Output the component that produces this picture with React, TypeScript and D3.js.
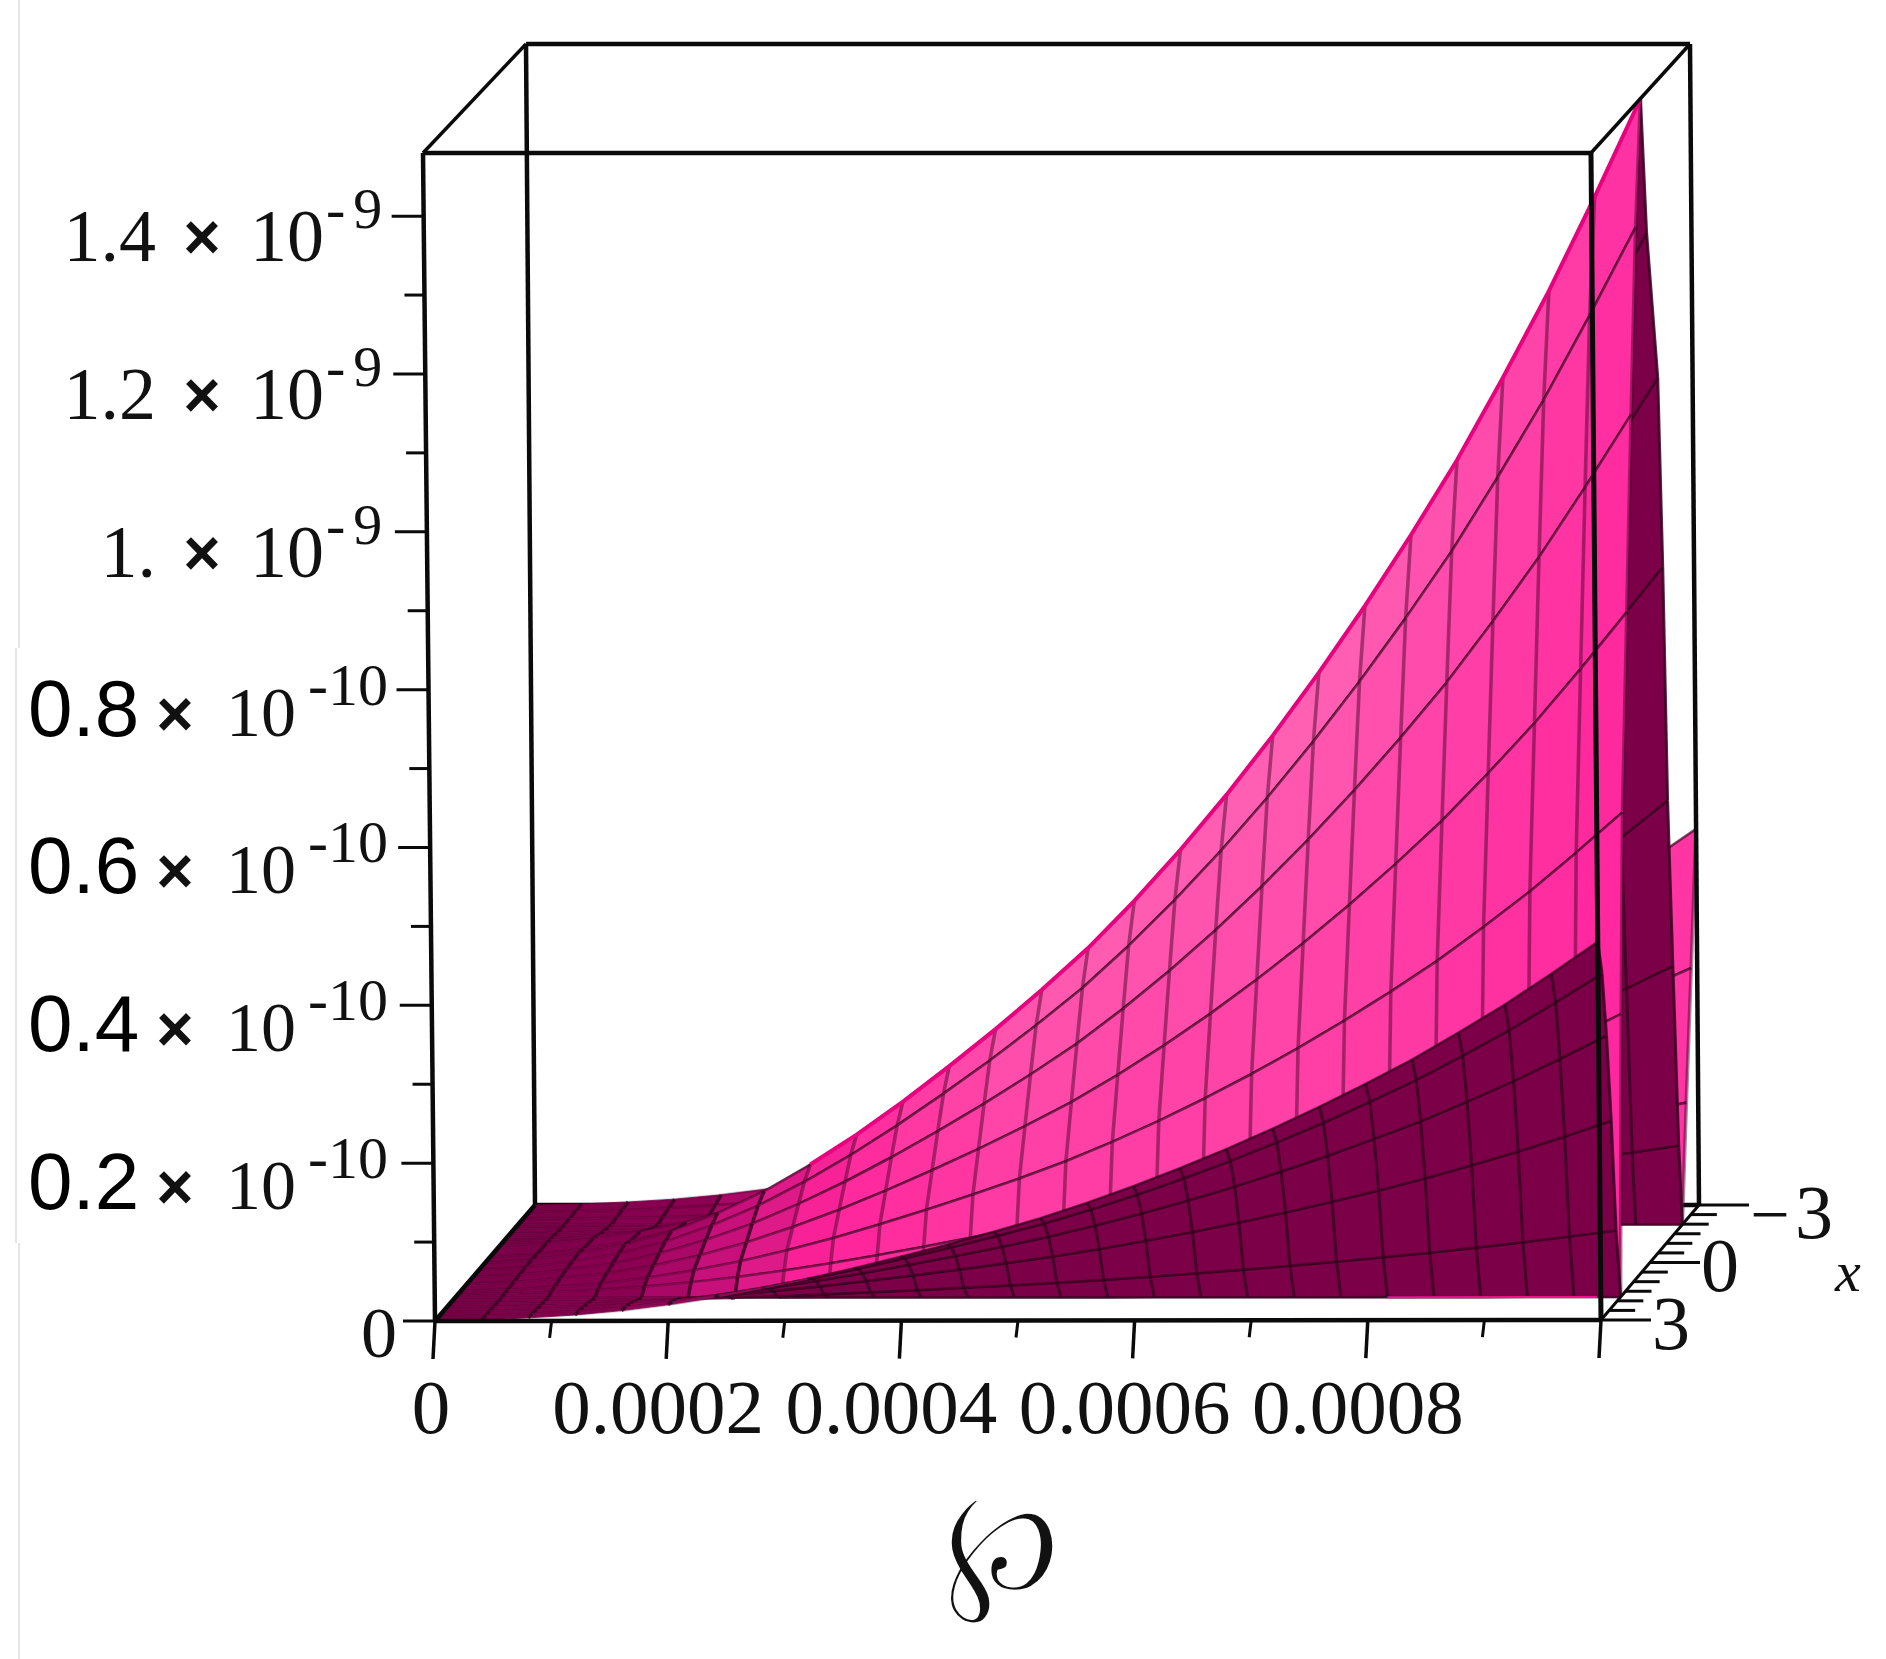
import React, { useRef, useEffect } from 'react';
import * as d3 from 'd3';

// grid of the surface
const pValues = [0, 0.00004, 0.00008, 0.00012, 0.00016, 0.0002, 0.00024, 0.00028, 0.00032, 0.00036, 0.0004, 0.00044, 0.00048, 0.00052, 0.00056, 0.0006, 0.00064, 0.00068, 0.00072, 0.00076, 0.0008, 0.00084, 0.00088, 0.00092, 0.00096, 0.001];
const xValues = [3, 2.76, 2.52, 2.28, 2.04, 1.8, 1.62, 1.44, 1.08, 0.72, 0.36, 0, -0.3, -0.9, -1.11, -1.29, -1.53, -1.8, -1.98, -2.28, -2.64, -3];
// height of the ridge along p, in units of 1e-9
const ridgeHeights = [0, 0.004, 0.012, 0.023, 0.04, 0.063, 0.091, 0.125, 0.163, 0.205, 0.25, 0.297, 0.347, 0.4, 0.46, 0.525, 0.595, 0.67, 0.75, 0.835, 0.925, 1.02, 1.125, 1.235, 1.355, 1.48];
// share of the ridge height along x
const xProfile = [0.324, 0.293, 0.236, 0.159, 0.061, 0, 0.24, 0.41, 0.576, 0.74, 0.895, 1, 0.88, 0.746, 0.58, 0.376, 0.23, 0.071, 0, 0.1, 0.21, 0.324];

const zTicks = [0, 0.1, 0.2, 0.3, 0.4, 0.5, 0.6, 0.7, 0.8, 0.9, 1.0, 1.1, 1.2, 1.3, 1.4];
const zLabelValues = [1.4, 1.2, 1.0, 0.8, 0.6, 0.4, 0.2, 0];
const zLabels = ['1.4', '1.2', '1.', '0.8', '0.6', '0.4', '0.2', '0'];
const zExponents = ['-9', '-9', '-9', '-10', '-10', '-10', '-10', ''];
const pTicks = [0, 0.0001, 0.0002, 0.0003, 0.0004, 0.0005, 0.0006, 0.0007, 0.0008, 0.0009, 0.001];
const pMajor = [0, 0.0002, 0.0004, 0.0006, 0.0008, 0.001];
const pLabelValues = [0, 0.0002, 0.0004, 0.0006, 0.0008];
const pLabels = ['0', '0.0002', '0.0004', '0.0006', '0.0008'];
const xTicks = [3, 2.5, 2, 1.5, 1, 0.5, 0, -0.5, -1, -1.5, -2, -2.5, -3];
const xMajor = [3, 0, -3];

const serif = '"Liberation Serif", serif';
const sans = '"Liberation Sans", sans-serif';

// box corners on the page
const front = { bl: [435, 1321], br: [1601, 1320], tl: [423, 153], tr: [1591, 153] };
const back = { bl: [535, 1205], br: [1699, 1205], tl: [526, 44], tr: [1690, 44] };

const uScale = d3.scaleLinear().domain([0, 0.001]).range([0, 1]);
const wScale = d3.scaleLinear().domain([3, -3]).range([0, 1]);
const hScale = d3.scaleLinear().domain([0, 1.48]).range([0, 1]);

const lerp = (a: number, b: number, t: number) => a + (b - a) * t;
const face = (f: typeof front, u: number, h: number) => {
  const b = [lerp(f.bl[0], f.br[0], u), lerp(f.bl[1], f.br[1], u)];
  const t = [lerp(f.tl[0], f.tr[0], u), lerp(f.tl[1], f.tr[1], u)];
  return [lerp(b[0], t[0], h), lerp(b[1], t[1], h)];
};
const project = (p: number, x: number, z: number): [number, number] => {
  const u = uScale(p), w = wScale(x), h = hScale(z);
  const a = face(front, u, h), b = face(back, u, h);
  return [lerp(a[0], b[0], w), lerp(a[1], b[1], w)];
};

const topColor = d3.scaleLinear<string>()
  .domain([0, 0.12, 0.2, 0.3, 0.45, 0.7, 0.85, 1])
  .range(['#7a0048', '#8c0052', '#c8107a', '#ff2a9d', '#ff60b2', '#ff6ab6', '#ff50ae', '#ff2ba0']);
const rowShade = d3.scaleLinear().domain([0.2, 0.5]).range([0.6, 0]).clamp(true);
// the flat part near p = 0 shows its p lines far more than its x lines
const xLineOpacity = d3.scaleLinear().domain([0.1, 0.3]).range([0.12, 0.6]).clamp(true);
const darkColor = '#7b0047';

const App: React.FC = () => {
  const svgRef = useRef<SVGSVGElement | null>(null);

  useEffect(() => {
    const svg = d3.select(svgRef.current);
    svg.selectAll('*').remove();
    svg.attr('width', 1886).attr('height', 1659)
      .style('position', 'absolute').style('left', 0).style('top', 0)
      .style('background', '#fff');

    // faint scan edges at the left of the page
    [[19, 0, 648], [16, 648, 1243], [19, 1243, 1659]].forEach(([x, y0, y1]) => {
      svg.append('line').attr('x1', x).attr('x2', x).attr('y1', y0).attr('y2', y1)
        .attr('stroke', '#dcdcdc').attr('stroke-width', 1.5);
    });

    const root = svg.append('g').style('filter', 'blur(0.7px)');
    const box = (a: number[], b: number[], w = 4.5) => root.append('line')
      .attr('x1', a[0]).attr('y1', a[1]).attr('x2', b[0]).attr('y2', b[1])
      .attr('stroke', '#0a0a0a').attr('stroke-width', w);

    // box edges behind the surface
    box(back.tl, back.tr);
    box(back.tl, back.bl);
    box(back.bl, back.br);

    const line = d3.line();
    const floorArea = d3.polygonArea([
      project(0, 3, 0), project(0.001, 3, 0), project(0.001, -3, 0), project(0, -3, 0),
    ]);

    // surface, far rows first: each row gets its fills, then its mesh lines
    const surface = root.append('g');
    for (let j = xValues.length - 2; j >= 0; j--) {
      const cells = [];
      for (let i = 0; i < pValues.length - 1; i++) {
        const z = (a: number, b: number) => ridgeHeights[a] * xProfile[b];
        const quad = [
          project(pValues[i], xValues[j], z(i, j)),
          project(pValues[i + 1], xValues[j], z(i + 1, j)),
          project(pValues[i + 1], xValues[j + 1], z(i + 1, j + 1)),
          project(pValues[i], xValues[j + 1], z(i, j + 1)),
        ] as [number, number][];
        const topSide = d3.polygonArea(quad) * floorArea > 0;
        const u = uScale(pValues[i]);
        const w = wScale(xValues[j]);
        const fill = topSide
          ? (u < 0.25 ? topColor(u) : d3.interpolateRgb(topColor(u), '#ff1d98')(rowShade(w)))
          : darkColor;
        cells.push({ quad, fill, topSide, u });
      }
      cells.forEach(c => {
        surface.append('path').attr('d', line(c.quad) + 'Z')
          .attr('fill', c.fill).attr('stroke', c.fill).attr('stroke-width', 0.8);
      });
      cells.forEach(c => {
        const [c00, c10, c11, c01] = c.quad;
        // lines of constant p
        surface.append('path').attr('d', line([c10, c11]))
          .attr('fill', 'none').attr('stroke', '#3c0024')
          .attr('stroke-opacity', c.topSide && c.u > 0.2 ? 0.45 : 0.85)
          .attr('stroke-width', c.topSide ? 3.6 : 3);
        // lines of constant x
        surface.append('path').attr('d', line([c00, c10]) + line([c01, c11]))
          .attr('fill', 'none').attr('stroke', '#2a0018')
          .attr('stroke-opacity', xLineOpacity(c.u)).attr('stroke-width', 2.6);
      });
    }

    // deep pink rim along the ridge
    const ridgeLine = pValues.map((p, i) => project(p, 0, ridgeHeights[i]));
    root.append('path').attr('d', line(ridgeLine.slice(7)))
      .attr('fill', 'none').attr('stroke', '#e8007f').attr('stroke-width', 4);

    // pink seam where the surface touches the floor
    root.append('path').attr('d', line([project(0.0008, 1.8, 0), project(0.00098, 1.8, 0)]))
      .attr('fill', 'none').attr('stroke', '#f01090').attr('stroke-width', 2);

    // box edges in front
    box(front.tl, front.tr);
    box(front.tl, front.bl);
    box(front.tr, front.br, 5);
    box(front.bl, front.br);
    box(front.tl, back.tl, 3.5);
    box(front.tr, back.tr, 3.5);
    box(front.bl, back.bl);
    box(front.br, back.br, 3);
    box(back.tr, back.br);

    // z ticks
    zTicks.forEach(t => {
      const [x, y] = project(0, 3, t);
      const major = Math.round(t * 10) % 2 === 0;
      box([x - (major ? 32 : 20), y], [x, y], 3);
    });
    // p ticks
    pTicks.forEach(t => {
      const [x, y] = project(t, 3, 0);
      const major = pMajor.includes(t);
      box([x, y], [x - 2, y + (major ? 38 : 17)], major ? 3.5 : 3);
    });
    // x ticks
    xTicks.forEach(t => {
      const [x, y] = project(0.001, t, 0);
      const len = xMajor.includes(t) ? 50 : 26;
      box([x, y], [x + len, y], 3);
    });

    const text = (s: string, x: number, y: number, size: number, family = serif) =>
      root.append('text').attr('x', x).attr('y', y).attr('font-size', size)
        .attr('font-family', family).attr('fill', '#111').text(s);

    // z labels
    zLabelValues.forEach((v, i) => {
      const tickY = project(0, 3, v)[1];
      if (zExponents[i] === '') {
        text(zLabels[i], 379, tickY + 36, 72).attr('text-anchor', 'middle');
      } else if (zExponents[i] === '-9') {
        text(zLabels[i], 156, tickY + 45, 74).attr('text-anchor', 'end');
        text('×', 202, tickY + 43, 64, sans).attr('text-anchor', 'middle').attr('font-weight', 'bold');
        text('10', 250, tickY + 45, 74);
        text('-9', 326, tickY + 12, 58).attr('letter-spacing', 8);
      } else {
        text(zLabels[i], 28, tickY + 46, 80, sans).attr('fill', '#000');
        text('×', 175, tickY + 46, 64, sans).attr('text-anchor', 'middle').attr('font-weight', 'bold');
        text('10', 226, tickY + 46, 70);
        text('-10', 308, tickY + 15, 60);
      }
    });

    // p labels
    pLabelValues.forEach((v, i) => {
      const x = project(v, 3, 0)[0];
      text(pLabels[i], i === 0 ? x - 4 : x - 10, 1433, 77).attr('text-anchor', 'middle');
    });

    // x labels
    text('−', 1770, 1238, 70).attr('text-anchor', 'middle');
    text('3', 1814, 1238, 76).attr('text-anchor', 'middle');
    text('0', 1720, 1291, 76).attr('text-anchor', 'middle');
    text('3', 1671, 1349, 76).attr('text-anchor', 'middle');
    text('x', 1835, 1291, 58).attr('font-style', 'italic');

    // axis title, thinned with a white outline
    text('℘', 1002, 1590, 142, '"DejaVu Serif", serif').attr('text-anchor', 'middle')
      .attr('stroke', '#fff').attr('stroke-width', 3.5);
  }, []);

  return <svg ref={svgRef}></svg>;
};

export default App;
